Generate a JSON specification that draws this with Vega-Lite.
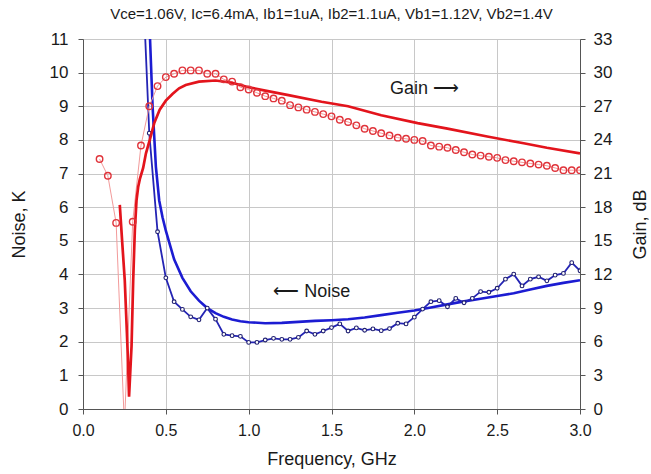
{
  "$schema": "https://vega.github.io/schema/vega-lite/v6.json",
  "autosize": {"type": "none"},
  "width": 497,
  "height": 370,
  "padding": {"left": 83, "top": 39, "right": 71, "bottom": 65},
  "background": "white",
  "config": {
    "view": {"stroke": null},
    "font": "Liberation Sans",
    "axis": {
      "labelFont": "Liberation Sans",
      "titleFont": "Liberation Sans",
      "titleFontWeight": "normal",
      "labelColor": "#1a1a1a",
      "titleColor": "#1a1a1a",
      "domainColor": "#555555",
      "tickColor": "#555555",
      "tickSize": 5,
      "labelOverlap": false,
      "labelFlush": false
    }
  },
  "title": {
    "text": "Vce=1.06V, Ic=6.4mA, Ib1=1uA, Ib2=1.1uA, Vb1=1.12V, Vb2=1.4V",
    "font": "Liberation Sans",
    "fontSize": 15,
    "fontWeight": "normal",
    "color": "#1a1a1a",
    "frame": "group",
    "anchor": "middle",
    "offset": 8
  },
  "datasets": {
    "simNoise": [
      {"f": 0.39, "v": 13.5}, {"f": 0.40, "v": 11.6}, {"f": 0.42, "v": 9.0}, {"f": 0.44, "v": 7.2},
      {"f": 0.46, "v": 6.2}, {"f": 0.48, "v": 5.7}, {"f": 0.50, "v": 5.3}, {"f": 0.55, "v": 4.45},
      {"f": 0.60, "v": 3.9}, {"f": 0.65, "v": 3.5}, {"f": 0.70, "v": 3.22}, {"f": 0.75, "v": 3.0},
      {"f": 0.80, "v": 2.85}, {"f": 0.85, "v": 2.74}, {"f": 0.90, "v": 2.66}, {"f": 0.95, "v": 2.61},
      {"f": 1.00, "v": 2.58}, {"f": 1.10, "v": 2.55}, {"f": 1.20, "v": 2.56}, {"f": 1.30, "v": 2.59},
      {"f": 1.40, "v": 2.62}, {"f": 1.50, "v": 2.64}, {"f": 1.60, "v": 2.67}, {"f": 1.70, "v": 2.72},
      {"f": 1.80, "v": 2.79}, {"f": 1.90, "v": 2.86}, {"f": 2.00, "v": 2.93}, {"f": 2.10, "v": 3.02},
      {"f": 2.20, "v": 3.11}, {"f": 2.30, "v": 3.20}, {"f": 2.40, "v": 3.28}, {"f": 2.50, "v": 3.36},
      {"f": 2.60, "v": 3.44}, {"f": 2.70, "v": 3.55}, {"f": 2.80, "v": 3.66}, {"f": 2.90, "v": 3.75},
      {"f": 3.00, "v": 3.83}
    ],
    "measNoise": [
      {"f": 0.35, "v": 14.0}, {"f": 0.40, "v": 8.2}, {"f": 0.45, "v": 5.27}, {"f": 0.50, "v": 3.9},
      {"f": 0.55, "v": 3.19}, {"f": 0.60, "v": 2.96}, {"f": 0.65, "v": 2.74}, {"f": 0.70, "v": 2.65},
      {"f": 0.75, "v": 3.0}, {"f": 0.80, "v": 2.67}, {"f": 0.85, "v": 2.22}, {"f": 0.90, "v": 2.18},
      {"f": 0.95, "v": 2.16}, {"f": 1.00, "v": 1.98}, {"f": 1.05, "v": 1.98}, {"f": 1.10, "v": 2.05},
      {"f": 1.15, "v": 2.10}, {"f": 1.20, "v": 2.07}, {"f": 1.25, "v": 2.07}, {"f": 1.30, "v": 2.13},
      {"f": 1.35, "v": 2.32}, {"f": 1.40, "v": 2.22}, {"f": 1.45, "v": 2.32}, {"f": 1.50, "v": 2.42},
      {"f": 1.55, "v": 2.53}, {"f": 1.60, "v": 2.32}, {"f": 1.65, "v": 2.41}, {"f": 1.70, "v": 2.34},
      {"f": 1.75, "v": 2.38}, {"f": 1.80, "v": 2.33}, {"f": 1.85, "v": 2.39}, {"f": 1.90, "v": 2.55},
      {"f": 1.95, "v": 2.53}, {"f": 2.00, "v": 2.73}, {"f": 2.05, "v": 2.97}, {"f": 2.10, "v": 3.19},
      {"f": 2.15, "v": 3.22}, {"f": 2.20, "v": 3.04}, {"f": 2.25, "v": 3.29}, {"f": 2.30, "v": 3.16},
      {"f": 2.35, "v": 3.29}, {"f": 2.40, "v": 3.49}, {"f": 2.45, "v": 3.47}, {"f": 2.50, "v": 3.59},
      {"f": 2.55, "v": 3.86}, {"f": 2.60, "v": 4.01}, {"f": 2.65, "v": 3.66}, {"f": 2.70, "v": 3.86},
      {"f": 2.75, "v": 3.93}, {"f": 2.80, "v": 3.81}, {"f": 2.85, "v": 3.98}, {"f": 2.90, "v": 4.03},
      {"f": 2.95, "v": 4.35}, {"f": 3.00, "v": 4.11}, {"f": 3.05, "v": 5.2}
    ],
    "simGain": [
      {"f": 0.222, "g": 18.2}, {"f": 0.237, "g": 14.8}, {"f": 0.252, "g": 11.5}, {"f": 0.265, "g": 6.8},
      {"f": 0.272, "g": 4.1}, {"f": 0.278, "g": 1.1}, {"f": 0.286, "g": 3.5}, {"f": 0.293, "g": 5.6},
      {"f": 0.303, "g": 11.5}, {"f": 0.313, "g": 16.0}, {"f": 0.323, "g": 18.6}, {"f": 0.333, "g": 19.8},
      {"f": 0.343, "g": 20.5}, {"f": 0.363, "g": 21.5}, {"f": 0.38, "g": 22.8}, {"f": 0.403, "g": 24.0},
      {"f": 0.43, "g": 25.5}, {"f": 0.463, "g": 26.7}, {"f": 0.50, "g": 27.5}, {"f": 0.54, "g": 28.1},
      {"f": 0.58, "g": 28.6}, {"f": 0.62, "g": 28.9}, {"f": 0.70, "g": 29.2}, {"f": 0.80, "g": 29.3},
      {"f": 0.90, "g": 29.1}, {"f": 1.00, "g": 28.7}, {"f": 1.10, "g": 28.4}, {"f": 1.24, "g": 28.0},
      {"f": 1.44, "g": 27.4}, {"f": 1.60, "g": 27.0}, {"f": 1.80, "g": 26.2}, {"f": 2.02, "g": 25.5},
      {"f": 2.20, "g": 25.0}, {"f": 2.44, "g": 24.3}, {"f": 2.66, "g": 23.7}, {"f": 2.80, "g": 23.3},
      {"f": 3.00, "g": 22.8}
    ],
    "measGain": [
      {"f": 0.10, "g": 22.3}, {"f": 0.15, "g": 20.8}, {"f": 0.20, "g": 16.6}, {"f": 0.25, "g": -1.5},
      {"f": 0.30, "g": 16.7}, {"f": 0.35, "g": 23.5}, {"f": 0.40, "g": 27.0}, {"f": 0.45, "g": 28.8},
      {"f": 0.50, "g": 29.6}, {"f": 0.55, "g": 29.9}, {"f": 0.60, "g": 30.2}, {"f": 0.65, "g": 30.2},
      {"f": 0.70, "g": 30.2}, {"f": 0.75, "g": 29.9}, {"f": 0.80, "g": 29.9}, {"f": 0.85, "g": 29.4},
      {"f": 0.90, "g": 29.2}, {"f": 0.95, "g": 28.7}, {"f": 1.00, "g": 28.5}, {"f": 1.05, "g": 28.2},
      {"f": 1.10, "g": 27.9}, {"f": 1.15, "g": 27.7}, {"f": 1.20, "g": 27.5}, {"f": 1.25, "g": 27.1},
      {"f": 1.30, "g": 26.9}, {"f": 1.35, "g": 26.7}, {"f": 1.40, "g": 26.5}, {"f": 1.45, "g": 26.3},
      {"f": 1.50, "g": 26.1}, {"f": 1.55, "g": 25.8}, {"f": 1.60, "g": 25.6}, {"f": 1.65, "g": 25.3},
      {"f": 1.70, "g": 25.0}, {"f": 1.75, "g": 24.8}, {"f": 1.80, "g": 24.6}, {"f": 1.85, "g": 24.4},
      {"f": 1.90, "g": 24.2}, {"f": 1.95, "g": 24.1}, {"f": 2.00, "g": 24.0}, {"f": 2.05, "g": 23.9},
      {"f": 2.10, "g": 23.5}, {"f": 2.15, "g": 23.4}, {"f": 2.20, "g": 23.3}, {"f": 2.25, "g": 23.1},
      {"f": 2.30, "g": 22.9}, {"f": 2.35, "g": 22.7}, {"f": 2.40, "g": 22.6}, {"f": 2.45, "g": 22.5},
      {"f": 2.50, "g": 22.4}, {"f": 2.55, "g": 22.2}, {"f": 2.60, "g": 22.1}, {"f": 2.65, "g": 22.0},
      {"f": 2.70, "g": 21.9}, {"f": 2.75, "g": 21.8}, {"f": 2.80, "g": 21.7}, {"f": 2.85, "g": 21.5},
      {"f": 2.90, "g": 21.3}, {"f": 2.95, "g": 21.3}, {"f": 3.00, "g": 21.3}
    ],
    "notes": [
      {"f": 1.853, "v": 9.51, "label": "Gain ⟶"},
      {"f": 1.148, "v": 3.48, "label": "⟵ Noise"}
    ]
  },
  "layer": [
    {
      "encoding": {
        "x": {"field": "f", "type": "quantitative", "scale": {"domain": [0, 3], "nice": false},
              "axis": {"values": [0, 0.5, 1, 1.5, 2, 2.5, 3], "format": ".1f", "title": "Frequency, GHz",
                       "labelFontSize": 16, "titleFontSize": 18, "labelPadding": 8, "titlePadding": 12,
                       "grid": true, "gridColor": "#c8c8c8", "gridWidth": 1, "gridOpacity": 1, "labelOverlap": false}},
        "y": {"field": "v", "type": "quantitative", "scale": {"domain": [0, 11], "nice": false},
              "axis": {"orient": "left", "values": [0,1,2,3,4,5,6,7,8,9,10,11], "title": "Noise, K",
                       "labelFontSize": 17, "titleFontSize": 18, "labelPadding": 10, "titlePadding": 21,
                       "grid": true, "gridColor": "#c8c8c8", "gridWidth": 1, "gridOpacity": 1, "labelOverlap": false}}
      },
      "layer": [
        {
          "data": {"name": "simNoise"},
          "mark": {"type": "line", "color": "#1c1cd2", "strokeWidth": 2.6, "clip": true}
        },
        {
          "data": {"name": "measNoise"},
          "mark": {"type": "line", "color": "#2424b4", "strokeWidth": 1.8, "clip": true}
        },
        {
          "data": {"name": "measNoise"},
          "mark": {"type": "point", "shape": "circle", "filled": false, "fill": "white", "stroke": "#1e1e70", "strokeWidth": 1.1, "size": 14, "opacity": 1, "clip": true}
        },
        {
          "data": {"name": "notes"},
          "mark": {"type": "text", "align": "left", "baseline": "middle", "fontSize": 18, "color": "#1a1a1a", "font": "Liberation Sans"},
          "encoding": {"text": {"field": "label"}}
        }
      ]
    },
    {
      "encoding": {
        "x": {"field": "f", "type": "quantitative", "axis": {"grid": true, "gridColor": "#c8c8c8", "values": [0, 0.5, 1, 1.5, 2, 2.5, 3], "format": ".1f", "title": "Frequency, GHz"}},
        "y": {"field": "g", "type": "quantitative", "scale": {"domain": [0, 33], "nice": false},
              "axis": {"orient": "right", "values": [0,3,6,9,12,15,18,21,24,27,30,33], "title": "Gain, dB",
                       "labelFontSize": 17, "titleFontSize": 18, "titleAngle": 270, "labelPadding": 8, "titlePadding": 38,
                       "grid": false, "labelOverlap": false}}
      },
      "layer": [
        {
          "data": {"name": "measGain"},
          "mark": {"type": "line", "color": "#f29a9a", "strokeWidth": 1, "clip": true}
        },
        {
          "data": {"name": "simGain"},
          "mark": {"type": "line", "color": "#e3141c", "strokeWidth": 2.7, "clip": true}
        },
        {
          "data": {"name": "measGain"},
          "mark": {"type": "point", "shape": "circle", "filled": false, "fill": "white", "fillOpacity": 0, "stroke": "#e0333a", "strokeWidth": 1.4, "size": 42, "opacity": 1, "clip": true}
        }
      ]
    }
  ],
  "resolve": {"scale": {"y": "independent"}}
}
